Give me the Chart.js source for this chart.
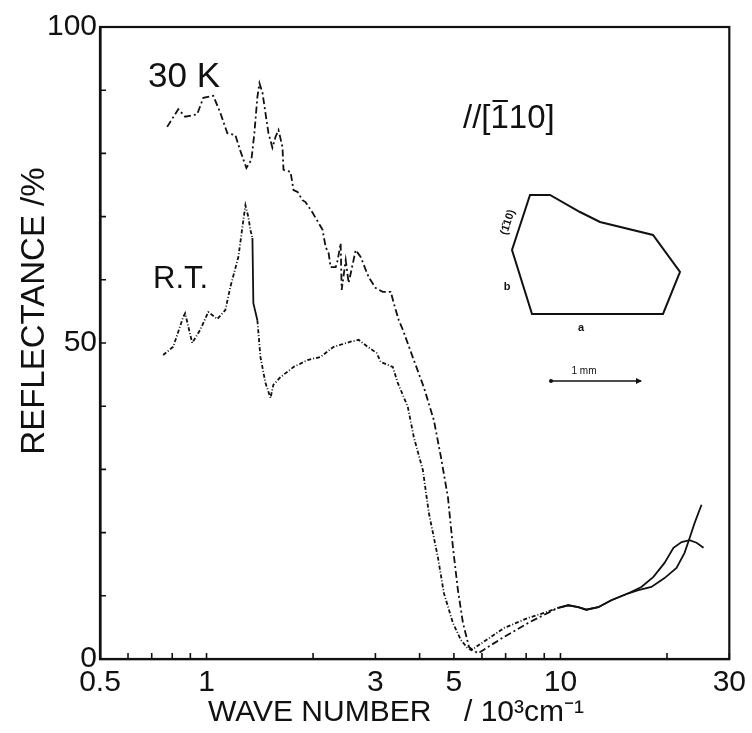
<!DOCTYPE html>
<html><head><meta charset="utf-8">
<script src="https://cdn.jsdelivr.net/npm/chart.js@4.4.1/dist/chart.umd.min.js"></script>
<style>html,body{margin:0;padding:0;background:#fff;}#wrap{width:752px;height:733px;}</style>
</head><body><div id="wrap"><canvas id="c" width="752" height="733"></canvas></div>
<script>
// ---- data (wave number in 10^3 cm^-1, reflectance in %) ----
const xTickValues = [0.5, 1, 3, 5, 10, 30];
const xTickLabels = ['0.5', '1', '3', '5', '10', '30'];
const xMinorTicks = [0.6, 0.7, 0.8, 0.9, 2, 4, 6, 7, 8, 9, 20];
const yTickValues = [0, 50, 100];
const yTickLabels = ['0', '50', '100'];
const yMinorTicks = [10, 20, 30, 40, 60, 70, 80, 90];

const k30Wave = [0.774,0.832,0.870,0.941,0.979,1.045,1.094,1.145,1.206,1.246,1.296,1.339,1.365,1.392,1.411,1.439,1.467,1.496,1.535,1.566,1.597,1.639,1.650,1.727,1.761,1.808,1.867,1.904,1.994,2.128,2.170,2.213,2.242,2.317,2.347,2.393,2.409,2.473,2.521,2.639,2.726,2.872,3.006,3.147,3.316,3.381,3.493,3.586,3.852,4.111,4.388,4.594,4.809,4.968,5.132,5.303,5.515,5.697,5.848,6.928,8.102,8.994,9.855,10.52,11.23,11.83,12.79,13.92,15.56,16.60,18.07,19.68,21.28,22.42,23.16,23.93,25.04];
const k30Refl = [84.2,87.0,85.8,86.2,88.8,89.1,86.4,83.2,82.9,80.4,77.7,79.0,83.2,88.9,91.1,89.6,86.4,83.2,80.9,82.6,83.7,81.0,77.4,77.1,74.2,73.9,72.6,72.3,70.6,67.9,65.2,64.2,62.0,62.0,63.1,65.8,58.4,63.1,59.5,64.7,63.6,60.4,58.7,58.1,58.1,56.3,53.6,52.1,47.3,43.0,37.8,32.0,25.6,17.7,10.9,5.7,1.9,1.3,0.9,3.5,5.7,7.0,8.1,8.5,8.2,7.8,8.2,9.3,10.4,10.9,11.4,12.8,14.4,16.8,19.1,21.5,24.4];

const rtWave = [0.754,0.805,0.859,0.870,0.911,0.960,1.011,1.073,1.130,1.168,1.230,1.271,1.288,1.313,1.330,1.348,1.356,1.392,1.420,1.467,1.516,1.545,1.618,1.761,1.930,2.100,2.286,2.554,2.691,2.853,3.026,3.106,3.359,3.470,3.704,3.852,4.085,4.248,4.505,4.685,4.968,5.234,5.45,5.60,6.928,8.102,8.994,9.855,10.52,11.23,11.83,12.79,13.92,15.56,16.93,18.31,19.68,20.86,21.99,23.16,24.24,25.37];
const rtRefl = [48.1,49.4,54.1,54.7,50.0,52.1,54.9,53.8,55.2,58.9,63.6,69.5,71.8,69.9,67.9,66.6,56.3,53.6,47.8,43.7,41.3,43.4,44.6,46.2,47.3,47.8,49.4,50.2,50.5,49.4,48.4,47.0,46.2,43.7,39.9,35.1,29.9,23.1,16.1,10.4,5.7,3.0,1.8,1.4,4.9,6.5,7.3,8.1,8.5,8.2,7.8,8.2,9.3,10.4,11.4,13.0,15.2,17.6,18.5,18.8,18.4,17.6];

const toXY = (xs, ys) => xs.map((x, i) => ({x: x, y: ys[i]}));
const INK = '#111';
const FONT = "'Liberation Sans', Arial, sans-serif";

const decor = {
  id: 'decor',
  afterDraw(chart) {
    const ctx = chart.ctx, a = chart.chartArea, xs = chart.scales.x, ys = chart.scales.y;
    ctx.save();
    ctx.strokeStyle = INK; ctx.fillStyle = INK;
    // frame
    ctx.lineWidth = 2.2;
    ctx.strokeRect(a.left, a.top, a.right - a.left, a.bottom - a.top);
    // inward ticks
    ctx.lineWidth = 1.6;
    ctx.beginPath();
    xTickValues.concat(xMinorTicks).forEach(v => {
      const px = xs.getPixelForValue(v);
      ctx.moveTo(px, a.bottom); ctx.lineTo(px, a.bottom - 6);
    });
    yTickValues.concat(yMinorTicks).forEach(v => {
      const py = ys.getPixelForValue(v);
      ctx.moveTo(a.left, py); ctx.lineTo(a.left + 6, py);
    });
    ctx.stroke();

    // axis titles
    ctx.textBaseline = 'alphabetic';
    ctx.font = '30px ' + FONT;
    ctx.textAlign = 'left';
    ctx.fillText('WAVE NUMBER', 208, 721);
    ctx.fillText('/ 10\u00B3cm\u207B\u00B9', 464, 721);
    ctx.save();
    ctx.translate(44, 311);
    ctx.rotate(-Math.PI / 2);
    ctx.textAlign = 'center';
    ctx.font = '33px ' + FONT;
    ctx.fillText('REFLECTANCE /%', 0, 0);
    ctx.restore();

    // curve labels
    ctx.textAlign = 'left';
    ctx.font = '35px ' + FONT;
    ctx.fillText('30 K', 148, 87);
    ctx.font = '31px ' + FONT;
    ctx.fillText('R.T.', 153, 288);

    // polarisation label //[1̄10]
    ctx.font = '33px ' + FONT;
    let x0 = 463, yb = 128;
    const p1 = '//[';
    ctx.fillText(p1, x0, yb);
    let w1 = ctx.measureText(p1).width;
    ctx.fillText('1', x0 + w1, yb);
    const w2 = ctx.measureText('1').width;
    ctx.lineWidth = 2;
    ctx.beginPath(); ctx.moveTo(x0 + w1 + 2, yb - 27); ctx.lineTo(x0 + w1 + w2 - 1, yb - 27); ctx.stroke();
    ctx.fillText('10]', x0 + w1 + w2, yb);

    // crystal inset
    ctx.lineWidth = 2;
    ctx.beginPath();
    const poly = [[530,195],[550,195],[580,212],[600,222],[653,235],[680,272],[663,314],[532,314],[512,250]];
    poly.forEach((p, i) => i ? ctx.lineTo(p[0], p[1]) : ctx.moveTo(p[0], p[1]));
    ctx.closePath(); ctx.stroke();
    ctx.save();
    ctx.translate(507, 222); ctx.rotate(-1.25);
    ctx.font = 'bold 11px ' + FONT; ctx.textAlign = 'center';
    ctx.fillText('(1\u030410)', 0, 4);
    ctx.restore();
    ctx.font = 'bold 11px ' + FONT; ctx.textAlign = 'center';
    ctx.fillText('b', 507, 290);
    ctx.fillText('a', 581, 331);
    ctx.font = '10px ' + FONT;
    ctx.fillText('1 mm', 584, 374);
    ctx.lineWidth = 1.4;
    ctx.beginPath(); ctx.moveTo(550, 381); ctx.lineTo(641, 381); ctx.stroke();
    ctx.beginPath(); ctx.arc(551, 381, 2, 0, Math.PI * 2); ctx.fill();
    ctx.beginPath(); ctx.moveTo(642, 381); ctx.lineTo(636, 378); ctx.lineTo(636, 384); ctx.closePath(); ctx.fill();
    ctx.restore();
  }
};

new Chart(document.getElementById('c'), {
  type: 'line',
  data: {
    datasets: [
      {
        label: '30 K', data: toXY(k30Wave, k30Refl),
        borderColor: INK, borderWidth: 1.8, pointRadius: 0, fill: false, tension: 0,
        borderDash: [7, 3, 2, 3],
        segment: { borderDash: c => c.p0.parsed.x > 9 ? [] : [7, 3, 2, 3] }
      },
      {
        label: 'R.T.', data: toXY(rtWave, rtRefl),
        borderColor: INK, borderWidth: 1.8, pointRadius: 0, fill: false, tension: 0,
        borderDash: [4, 2, 1, 2],
        segment: { borderDash: c => c.p0.parsed.x > 9 ? [] : (c.p0.parsed.x > 1.34 && c.p0.parsed.x < 1.36 ? [] : [4, 2, 1, 2]) }
      }
    ]
  },
  options: {
    responsive: false, animation: false, devicePixelRatio: 1,
    parsing: true,
    layout: { padding: { top: 27, right: 22, left: 0, bottom: 0 } },
    plugins: { legend: { display: false }, tooltip: { enabled: false }, title: { display: false } },
    scales: {
      x: {
        type: 'logarithmic', min: 0.5, max: 30,
        grid: { display: false, drawTicks: false },
        border: { display: true, color: INK, width: 2.2 },
        afterBuildTicks: s => { s.ticks = xTickValues.map(v => ({ value: v })); },
        afterFit: s => { s.height = 74; },
        ticks: {
          autoSkip: false, maxRotation: 0, padding: 6, color: INK,
          font: { family: FONT, size: 30 },
          callback: (v, i) => xTickLabels[i]
        }
      },
      y: {
        type: 'linear', min: 0, max: 100,
        grid: { display: false, drawTicks: false },
        border: { display: true, color: INK, width: 2.6 },
        afterBuildTicks: s => { s.ticks = yTickValues.map(v => ({ value: v })); },
        afterFit: s => { s.width = 100; },
        ticks: {
          padding: 3, color: INK,
          font: { family: FONT, size: 30 },
          callback: (v, i) => yTickLabels[i]
        }
      }
    }
  },
  plugins: [decor]
});
</script>
</body></html>
